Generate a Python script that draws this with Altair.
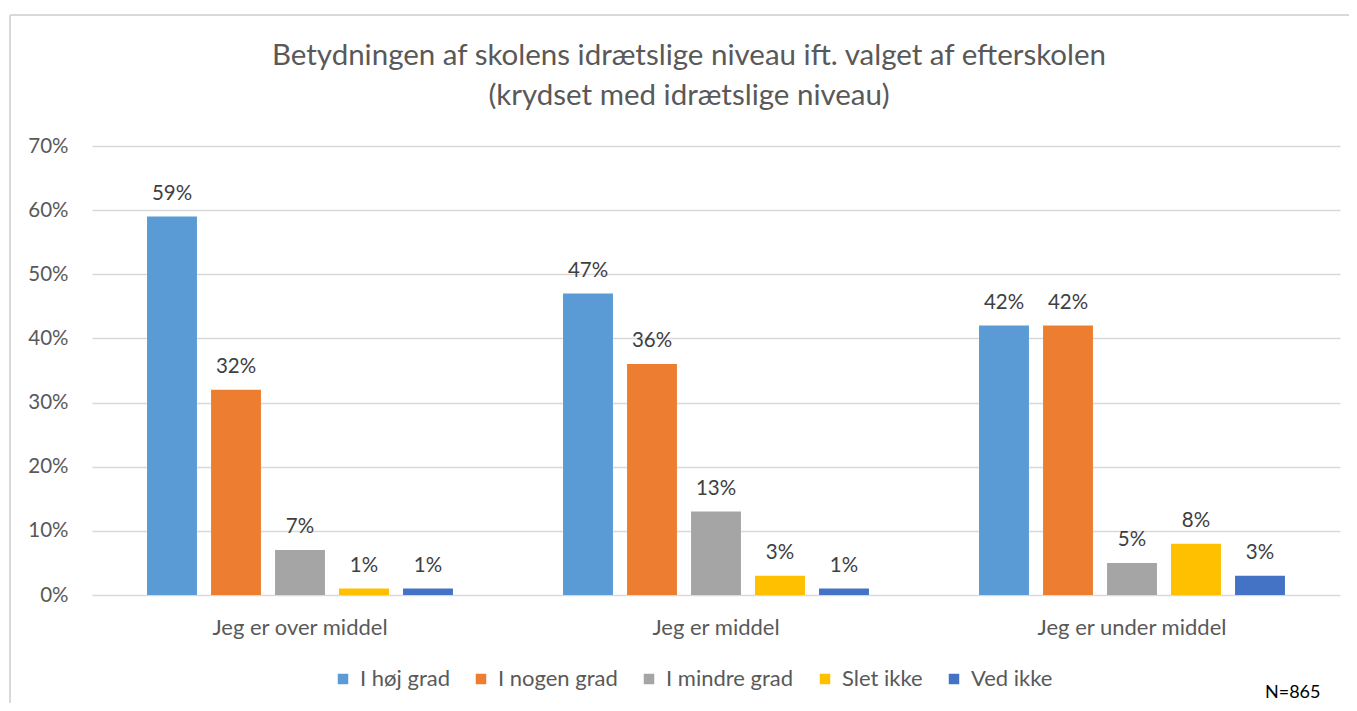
import altair as alt
import pandas as pd

groups = ["Jeg er over middel", "Jeg er middel", "Jeg er under middel"]
series = ["I høj grad", "I nogen grad", "I mindre grad", "Slet ikke", "Ved ikke"]
colors = ["#5B9BD5", "#ED7D31", "#A5A5A5", "#FFC000", "#4472C4"]
v_hoj = [59, 47, 42]
v_nogen = [32, 36, 42]
v_mindre = [7, 13, 5]
v_slet = [1, 3, 8]
v_ved = [1, 1, 3]
y_ticks = [0, 10, 20, 30, 40, 50, 60, 70]
title_lines = ["Betydningen af skolens idrætslige niveau ift. valget af efterskolen",
               "(krydset med idrætslige niveau)"]
note = "N=865"

rows = []
for s, vals in zip(series, [v_hoj, v_nogen, v_mindre, v_slet, v_ved]):
    for g, v in zip(groups, vals):
        rows.append({"group": g, "series": s, "value": v / 100, "label": f"{v}%"})
df = pd.DataFrame(rows)

FONT = "Lato"
GREY = "#595959"

x = alt.X("group:N", sort=groups, title=None,
          scale=alt.Scale(paddingInner=0, paddingOuter=0),
          axis=alt.Axis(labelFontSize=22, labelColor=GREY, labelPadding=22,
                        labelLimit=500, grid=False,
                        ticks=False, domain=False, labelAngle=0, labelFont=FONT))
xo = alt.XOffset("series:N", sort=series,
                 scale=alt.Scale(paddingInner=0.22, paddingOuter=0.86))
y = alt.Y("value:Q", title=None,
          scale=alt.Scale(domain=[0, 0.7], nice=False),
          axis=alt.Axis(values=[t / 100 for t in y_ticks], format=".0%",
                        labelFontSize=20.5, labelColor=GREY, labelPadding=24,
                        ticks=False, domain=False, gridColor="#d9d9d9",
                        gridWidth=1.3, labelFont=FONT))

base = alt.Chart(df)
bars = base.mark_bar().encode(
    x=x, xOffset=xo, y=y,
    color=alt.Color("series:N", sort=series,
                    scale=alt.Scale(domain=series, range=colors),
                    legend=alt.Legend(title=None, orient="none", direction="horizontal",
                                      legendX=240, legendY=522,
                                      labelFontSize=22, labelColor=GREY, labelFont=FONT,
                                      symbolType="square", symbolSize=110,
                                      symbolStrokeWidth=0, columnPadding=20,
                                      labelOffset=6))
)
labels = base.mark_text(fontSize=20.5, color="#404040", baseline="alphabetic",
                        dy=-17, font=FONT).encode(
    x=x, xOffset=xo, y=y, text="label:N")

title_df = pd.DataFrame({"t": title_lines, "line": [0, 1]})
title1 = alt.Chart(title_df.iloc[[0]]).mark_text(
    fontSize=29.5, color=GREY, font=FONT, align="center", baseline="alphabetic"
).encode(x=alt.value(597), y=alt.value(-81), text="t:N")
title2 = alt.Chart(title_df.iloc[[1]]).mark_text(
    fontSize=29.5, color=GREY, font=FONT, align="center", baseline="alphabetic"
).encode(x=alt.value(597), y=alt.value(-41), text="t:N")

note_layer = alt.Chart(pd.DataFrame({"t": [note]})).mark_text(
    fontSize=18, color="#000000", align="left", baseline="middle", font=FONT
).encode(x=alt.value(1173), y=alt.value(547), text="t:N")

border_top = alt.Chart(pd.DataFrame({"a": [0]})).mark_rule(
    color="#d9d9d9", strokeWidth=2).encode(
    x=alt.value(-82), x2=alt.value(1260), y=alt.value(-131))
border_left = alt.Chart(pd.DataFrame({"a": [0]})).mark_rule(
    color="#d9d9d9", strokeWidth=2).encode(
    x=alt.value(-82), y=alt.value(-131), y2=alt.value(560))

chart = alt.layer(border_top, border_left, bars, labels, title1, title2, note_layer).properties(
    width=1248, height=449,
    autosize=alt.AutoSizeParams(type="none"),
    padding={"left": 84, "top": 138, "right": 9, "bottom": 108},
).configure(background="white").configure_view(stroke="transparent", strokeWidth=0)

chart.save("out.html", embed_options={"renderer": "svg", "actions": False})
